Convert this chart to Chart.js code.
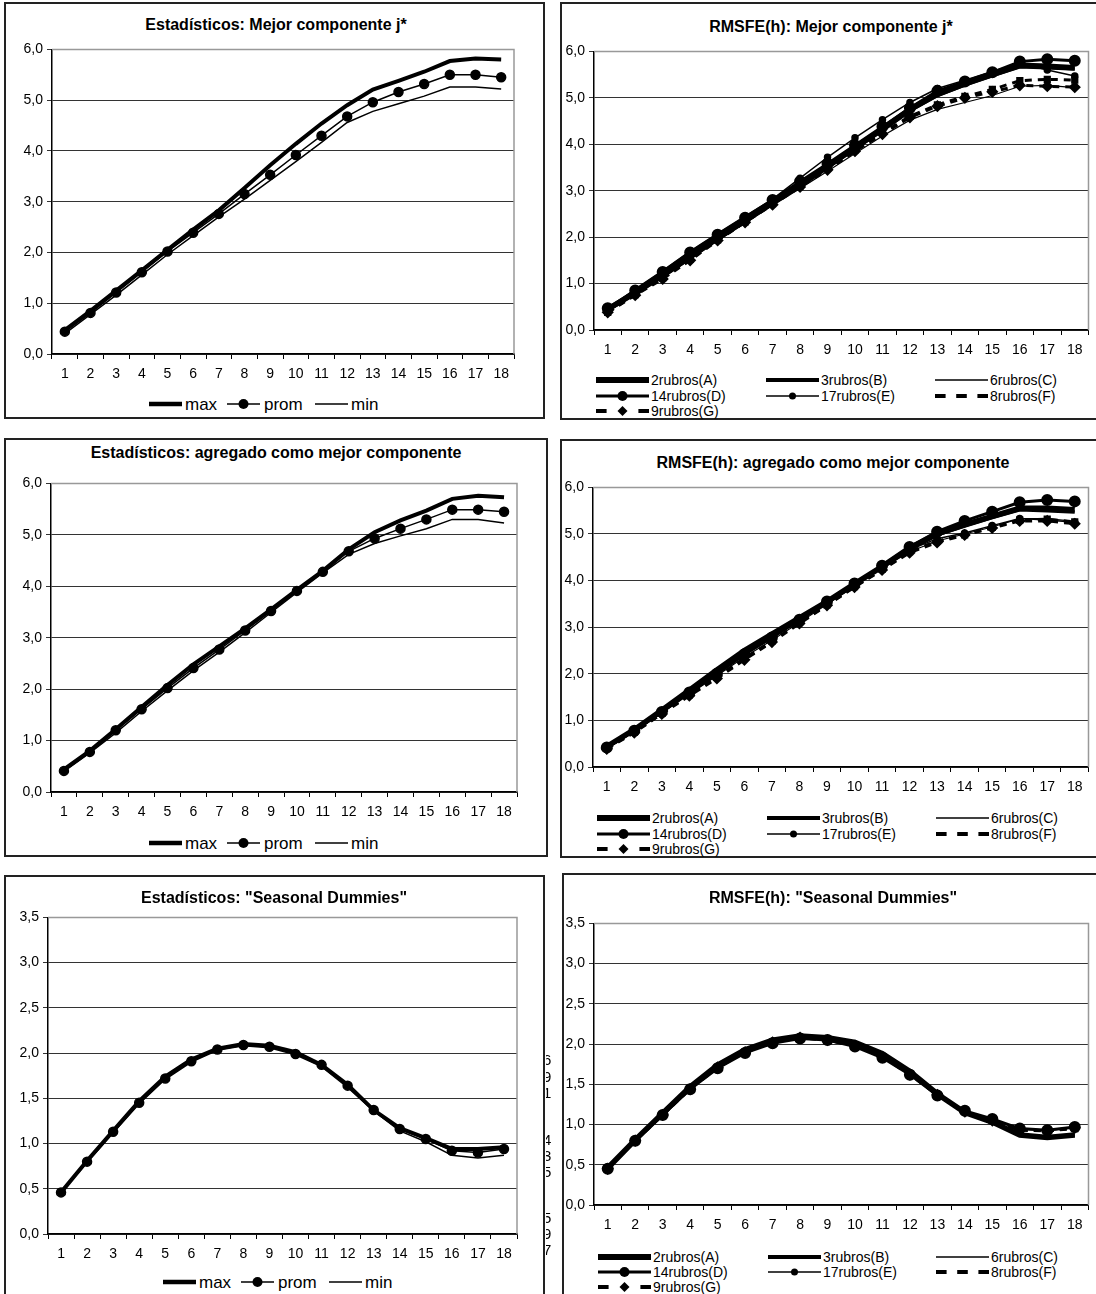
<!DOCTYPE html>
<html>
<head>
<meta charset="utf-8">
<script src="https://cdn.jsdelivr.net/npm/chart.js@4.4.1/dist/chart.umd.min.js"></script>
<style>
  body{margin:0;background:#fff;width:1096px;height:1294px;overflow:hidden;position:relative;font-family:"Liberation Sans",Arial,sans-serif;color:#000;}
  .panel{position:absolute;border:2px solid #222;box-sizing:border-box;}
  canvas{position:absolute;}
  .title{position:absolute;font-weight:bold;font-size:16px;white-space:nowrap;transform:translate(-50%,-50%);line-height:1;}
  .lg{position:absolute;white-space:nowrap;transform:translateY(-50%);line-height:1;}
  svg{position:absolute;overflow:visible;}
  .stray{position:absolute;left:546px;top:1045px;width:6px;height:220px;overflow:hidden;font-size:15px;}
  .stray span{position:absolute;left:-3px;}
</style>
</head>
<body>
<div class="panel" style="left:4px;top:2px;width:541px;height:417px"></div>
<div class="panel" style="left:560px;top:2px;width:600px;height:418px"></div>
<div class="panel" style="left:4px;top:438px;width:544px;height:419px"></div>
<div class="panel" style="left:560px;top:439px;width:600px;height:419px"></div>
<div class="panel" style="left:4px;top:875px;width:541px;height:500px"></div>
<div class="panel" style="left:562px;top:873px;width:600px;height:500px"></div>

<canvas id="c1"></canvas>
<canvas id="c2"></canvas>
<canvas id="c3"></canvas>
<canvas id="c4"></canvas>
<canvas id="c5"></canvas>
<canvas id="c6"></canvas>

<div class="stray">
  <span style="top:6px">6</span><span style="top:23px">9</span><span style="top:39px">1</span>
  <span style="top:86px">4</span><span style="top:102px">3</span><span style="top:118px">5</span>
  <span style="top:164px">5</span><span style="top:180px">9</span><span style="top:196px">7</span>
</div>

<script>
// horizons
const hLabels = ['1','2','3','4','5','6','7','8','9','10','11','12','13','14','15','16','17','18'];

// Estadisticos: Mejor componente j*
const jMax  = [0.47,0.85,1.25,1.65,2.05,2.45,2.83,3.27,3.72,4.14,4.54,4.90,5.21,5.38,5.56,5.77,5.82,5.80];
const jProm = [0.44,0.81,1.21,1.61,2.02,2.39,2.76,3.15,3.53,3.92,4.30,4.68,4.96,5.16,5.32,5.50,5.50,5.45];
const jMin  = [0.40,0.78,1.16,1.56,1.96,2.33,2.70,3.05,3.42,3.79,4.17,4.56,4.78,4.93,5.08,5.26,5.26,5.22];

// Estadisticos: agregado como mejor componente
const aMax  = [0.44,0.80,1.22,1.65,2.08,2.48,2.83,3.18,3.55,3.93,4.30,4.72,5.05,5.28,5.47,5.70,5.76,5.73];
const aProm = [0.41,0.78,1.20,1.61,2.02,2.41,2.77,3.14,3.52,3.91,4.28,4.68,4.93,5.12,5.30,5.49,5.49,5.45];
const aMin  = [0.40,0.76,1.15,1.57,1.97,2.36,2.72,3.10,3.49,3.88,4.26,4.62,4.83,4.98,5.12,5.30,5.30,5.23];

// Estadisticos: Seasonal Dummies
const sMax  = [0.46,0.81,1.14,1.47,1.74,1.93,2.05,2.10,2.08,2.01,1.87,1.65,1.37,1.17,1.06,0.94,0.94,0.96];
const sProm = [0.46,0.80,1.13,1.45,1.72,1.91,2.04,2.09,2.07,1.99,1.87,1.64,1.37,1.16,1.05,0.92,0.90,0.94];
const sMin  = [0.46,0.79,1.12,1.44,1.71,1.90,2.03,2.08,2.06,1.98,1.85,1.62,1.36,1.14,1.02,0.87,0.84,0.87];

// RMSFE(h): Mejor componente j*
const rjA = [0.45,0.80,1.18,1.58,1.98,2.36,2.74,3.12,3.52,3.93,4.33,4.75,5.08,5.30,5.50,5.70,5.68,5.65];
const rjB = [0.43,0.79,1.17,1.57,1.97,2.35,2.73,3.11,3.50,3.90,4.30,4.72,5.05,5.28,5.48,5.67,5.65,5.62];
const rjC = [0.40,0.76,1.12,1.52,1.92,2.30,2.68,3.05,3.42,3.80,4.18,4.52,4.75,4.90,5.05,5.25,5.27,5.22];
const rjD = [0.47,0.85,1.25,1.67,2.05,2.42,2.80,3.20,3.58,3.98,4.38,4.78,5.15,5.35,5.55,5.78,5.83,5.80];
const rjE = [0.45,0.88,1.28,1.70,2.08,2.45,2.82,3.27,3.72,4.14,4.53,4.90,5.20,5.38,5.57,5.75,5.60,5.47];
const rjF = [0.38,0.76,1.12,1.52,1.94,2.33,2.72,3.10,3.48,3.88,4.25,4.60,4.85,5.03,5.18,5.37,5.40,5.38];
const rjG = [0.38,0.75,1.10,1.50,1.93,2.32,2.70,3.08,3.45,3.85,4.22,4.58,4.82,5.00,5.13,5.27,5.25,5.23];

// RMSFE(h): agregado como mejor componente
const raA = [0.44,0.80,1.22,1.65,2.08,2.50,2.85,3.20,3.55,3.93,4.30,4.70,5.00,5.20,5.38,5.55,5.55,5.52];
const raB = [0.43,0.79,1.20,1.62,2.04,2.45,2.80,3.17,3.53,3.92,4.30,4.68,4.98,5.17,5.35,5.52,5.50,5.47];
const raC = [0.40,0.76,1.16,1.56,1.96,2.36,2.72,3.10,3.49,3.88,4.26,4.62,4.85,5.00,5.15,5.33,5.33,5.27];
const raD = [0.42,0.78,1.18,1.60,2.00,2.42,2.78,3.16,3.55,3.94,4.32,4.72,5.05,5.28,5.48,5.68,5.73,5.70];
const raE = [0.40,0.76,1.17,1.58,1.98,2.40,2.76,3.14,3.53,3.92,4.28,4.66,4.90,5.02,5.18,5.33,5.30,5.25];
const raF = [0.40,0.75,1.15,1.55,1.93,2.33,2.70,3.10,3.48,3.87,4.24,4.62,4.85,4.98,5.14,5.30,5.32,5.26];
const raG = [0.39,0.74,1.14,1.53,1.90,2.30,2.68,3.08,3.47,3.86,4.23,4.60,4.82,4.98,5.13,5.28,5.28,5.22];

// RMSFE(h): Seasonal Dummies
const rsA = [0.46,0.81,1.14,1.47,1.74,1.93,2.05,2.10,2.08,2.02,1.88,1.66,1.38,1.15,1.03,0.87,0.84,0.87];
const rsB = [0.46,0.81,1.14,1.47,1.74,1.93,2.05,2.10,2.08,2.01,1.87,1.65,1.38,1.15,1.03,0.87,0.84,0.87];
const rsC = [0.46,0.80,1.13,1.45,1.72,1.91,2.03,2.08,2.06,1.99,1.85,1.63,1.37,1.15,1.04,0.88,0.85,0.88];
const rsD = [0.45,0.80,1.12,1.44,1.70,1.89,2.01,2.07,2.05,1.97,1.83,1.62,1.36,1.17,1.07,0.95,0.93,0.97];
const rsE = [0.46,0.80,1.12,1.45,1.71,1.90,2.02,2.08,2.05,1.98,1.84,1.62,1.37,1.17,1.06,0.94,0.93,0.96];
const rsF = [0.46,0.80,1.12,1.45,1.71,1.90,2.02,2.08,2.05,1.98,1.84,1.63,1.37,1.16,1.05,0.93,0.92,0.95];
const rsG = [0.45,0.80,1.12,1.44,1.71,1.90,2.02,2.08,2.05,1.98,1.84,1.62,1.37,1.16,1.05,0.94,0.92,0.96];

const statNames = ['max','prom','min'];
const rubroNames = ['2rubros(A)','3rubros(B)','6rubros(C)','14rubros(D)','17rubros(E)','8rubros(F)','9rubros(G)'];

const FONT = '"Liberation Sans", Arial, sans-serif';
const YW = 45, XH = 30, PADTOP = 10, PADR = 3;

// gray frame on top/right of the plot area, like the Excel plot area
const plotFrame = {
  id:'plotFrame',
  beforeDatasetsDraw(c){
    const a = c.chartArea, x = c.ctx;
    x.save();
    x.strokeStyle = '#999'; x.lineWidth = 1.5;
    x.beginPath(); x.moveTo(a.left, a.top); x.lineTo(a.right, a.top); x.lineTo(a.right, a.bottom); x.stroke();
    x.restore();
  }
};

function line(data, w, opts){
  return Object.assign({data, borderColor:'#000', backgroundColor:'#000', borderWidth:w,
    pointRadius:0, fill:false, tension:0}, opts || {});
}

function statSets(mx, pr, mn){
  return [
    line(mx, 4, {label:statNames[0]}),
    line(pr, 1.5, {label:statNames[1], pointRadius:4.5, pointStyle:'circle'}),
    line(mn, 1.5, {label:statNames[2]})
  ];
}

function rubroSets(a,b,c,d,e,f,g){
  return [
    line(a, 5.5, {label:rubroNames[0]}),
    line(b, 3.5, {label:rubroNames[1]}),
    line(c, 1.2, {label:rubroNames[2]}),
    line(d, 3, {label:rubroNames[3], pointRadius:4.5}),
    line(e, 1.5, {label:rubroNames[4], pointRadius:3}),
    line(f, 3, {label:rubroNames[5], borderDash:[7,6], pointRadius:3, pointStyle:'rect'}),
    line(g, 3, {label:rubroNames[6], borderDash:[7,6], pointRadius:4, pointStyle:'rectRot'})
  ];
}

function makeChart(id, box, yMax, yStep, datasets){
  const cv = document.getElementById(id);
  const w = YW + (box.r - box.l) + PADR;
  const h = PADTOP + (box.b - box.t) + XH;
  cv.width = w; cv.height = h;
  cv.style.left = (box.l - YW) + 'px';
  cv.style.top = (box.t - PADTOP) + 'px';
  cv.style.width = w + 'px'; cv.style.height = h + 'px';
  return new Chart(cv.getContext('2d'), {
    type:'line',
    data:{labels:hLabels, datasets},
    options:{
      responsive:false, animation:false, devicePixelRatio:1,
      layout:{padding:{top:PADTOP, right:PADR, left:0, bottom:0}},
      plugins:{legend:{display:false}, title:{display:false}, tooltip:{enabled:false}},
      scales:{
        x:{
          offset:true,
          grid:{drawOnChartArea:false, offset:true, tickLength:5, color:'#000', lineWidth:1},
          border:{color:'#000', width:1.5},
          ticks:{color:'#000', font:{family:FONT, size:14}, padding:7, maxRotation:0, autoSkip:false},
          afterFit(s){ s.height = XH; }
        },
        y:{
          min:0, max:yMax,
          grid:{color:'#333', lineWidth:1, tickLength:5},
          border:{color:'#000', width:1.5},
          ticks:{stepSize:yStep, color:'#000', font:{family:FONT, size:14}, padding:4,
            callback:v => v.toFixed(1).replace('.', ',')},
          afterFit(s){ s.width = YW; }
        }
      }
    },
    plugins:[plotFrame]
  });
}

// titles and legends as plain text
function addTitle(text, cx, cy){
  const d = document.createElement('div');
  d.className = 'title'; d.textContent = text;
  d.style.left = cx + 'px'; d.style.top = cy + 'px';
  document.body.appendChild(d);
}

function sample(kind, x1, x2, y){
  const w = x2 - x1, m = w / 2;
  let inner = '';
  if(kind === 'dash'){
    const seg = w / 5;
    inner = `<line x1="0" y1="0" x2="${seg}" y2="0" stroke="#000" stroke-width="4"/>`
          + `<line x1="${2*seg}" y1="0" x2="${3*seg}" y2="0" stroke="#000" stroke-width="4"/>`
          + `<line x1="${4*seg}" y1="0" x2="${w}" y2="0" stroke="#000" stroke-width="4"/>`;
  }else if(kind === 'dashDiamond'){
    const seg = w / 5;
    inner = `<line x1="0" y1="0" x2="${seg}" y2="0" stroke="#000" stroke-width="4"/>`
          + `<polygon points="${m-5},0 ${m},-5 ${m+5},0 ${m},5" fill="#000"/>`
          + `<line x1="${4*seg}" y1="0" x2="${w}" y2="0" stroke="#000" stroke-width="4"/>`;
  }else{
    inner = `<line x1="0" y1="0" x2="${w}" y2="0" stroke="#000" stroke-width="${kind.lw}"/>`;
    if(kind.r) inner += `<circle cx="${m}" cy="0" r="${kind.r}" fill="#000"/>`;
  }
  const s = document.createElementNS('http://www.w3.org/2000/svg', 'svg');
  s.setAttribute('width', w); s.setAttribute('height', 1);
  s.style.left = x1 + 'px'; s.style.top = y + 'px';
  s.innerHTML = inner;
  document.body.appendChild(s);
}

function addLegendText(text, x, y, size){
  const d = document.createElement('div');
  d.className = 'lg'; d.textContent = text;
  d.style.left = x + 'px'; d.style.top = y + 'px'; d.style.fontSize = size + 'px';
  document.body.appendChild(d);
}

function statLegend(x0, y){
  const kinds = [{lw:4.5}, {lw:1.5, r:5}, {lw:1.5}];
  const offs = [[0,33,36],[78,111,115],[166,199,202]];
  statNames.forEach((n, i) => {
    sample(kinds[i], x0 + offs[i][0], x0 + offs[i][1], y);
    addLegendText(n, x0 + offs[i][2], y, 17);
  });
}

function rubroLegend(cols, rows){
  const kinds = [{lw:6}, {lw:4}, {lw:1.5}, {lw:3, r:5}, {lw:1.5, r:3.5}, 'dash', 'dashDiamond'];
  rubroNames.forEach((n, i) => {
    const c = cols[i % 3], y = rows[Math.floor(i / 3)];
    sample(kinds[i], c, c + 53, y);
    addLegendText(n, c + 55, y, 14);
  });
}

// charts
makeChart('c1', {l:52, r:517, t:47, b:354}, 6, 1, statSets(jMax, jProm, jMin));
makeChart('c2', {l:594, r:1093, t:49, b:330}, 6, 1, rubroSets(rjA, rjB, rjC, rjD, rjE, rjF, rjG));
makeChart('c3', {l:51, r:520, t:481, b:792}, 6, 1, statSets(aMax, aProm, aMin));
makeChart('c4', {l:593, r:1093, t:485, b:767}, 6, 1, rubroSets(raA, raB, raC, raD, raE, raF, raG));
makeChart('c5', {l:48, r:520, t:915, b:1234}, 3.5, 0.5, statSets(sMax, sProm, sMin));
makeChart('c6', {l:594, r:1093, t:921, b:1205}, 3.5, 0.5, rubroSets(rsA, rsB, rsC, rsD, rsE, rsF, rsG));

addTitle('Estadísticos: Mejor componente j*', 276, 25);
addTitle('RMSFE(h): Mejor componente j*', 831, 27);
addTitle('Estadísticos: agregado como mejor componente', 276, 453);
addTitle('RMSFE(h): agregado como mejor componente', 833, 463);
addTitle('Estadísticos: "Seasonal Dummies"', 274, 898);
addTitle('RMSFE(h): "Seasonal Dummies"', 833, 898);

statLegend(149, 404);
statLegend(149, 843);
statLegend(163, 1282);
rubroLegend([596, 766, 935], [380, 396, 411]);
rubroLegend([597, 767, 936], [818, 834, 849]);
rubroLegend([598, 768, 936], [1257, 1272, 1287]);
</script>
</body>
</html>
